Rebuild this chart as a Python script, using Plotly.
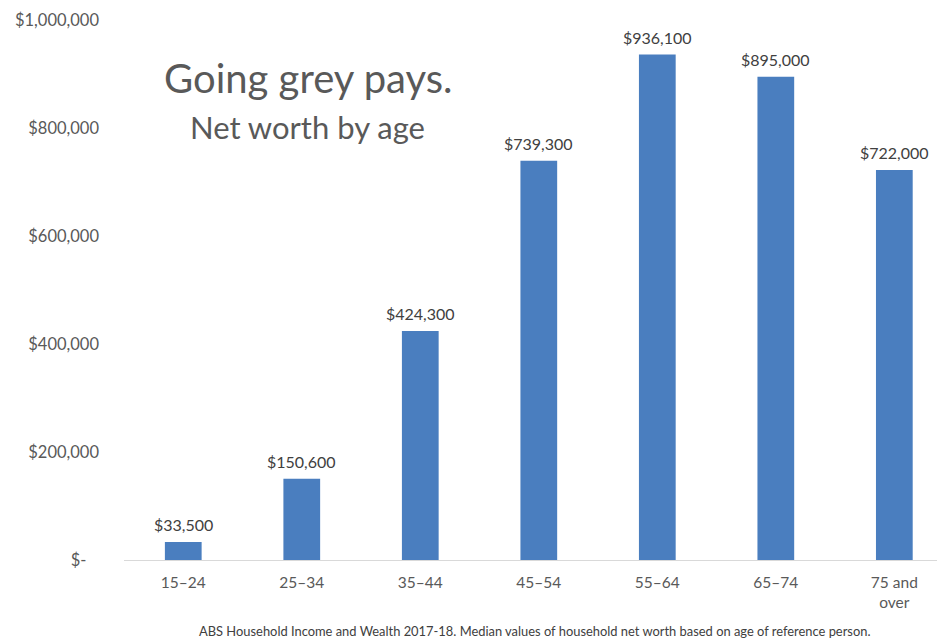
import plotly.graph_objects as go

categories = ["15\u201324", "25\u201334", "35\u201344", "45\u201354", "55\u201364", "65\u201374", "75 and<br>over"]
net_worth = [33500, 150600, 424300, 739300, 936100, 895000, 722000]
tick_vals = [0, 200000, 400000, 600000, 800000, 1000000]
tick_text = ["$-\u00a0\u00a0\u00a0", "$200,000", "$400,000", "$600,000", "$800,000", "$1,000,000"]

labels = ["${:,.0f}".format(v) for v in net_worth]

FONT = "Lato, 'Open Sans', sans-serif"

fig = go.Figure(go.Bar(
    x=list(range(len(categories))),
    y=net_worth,
    width=0.31,
    marker=dict(color="#4A7EBF", line=dict(width=0)),
))

label_annots = [
    dict(text=lab, x=i, y=v, xref="x", yref="y", yanchor="bottom",
         yshift=6, showarrow=False,
         font=dict(family=FONT, size=16, color="#404040"))
    for i, (v, lab) in enumerate(zip(net_worth, labels))
]

fig.update_layout(
    width=937, height=639,
    margin=dict(l=124, r=0, t=20, b=79),
    paper_bgcolor="white", plot_bgcolor="white",
    showlegend=False,
    font=dict(family=FONT, color="#595959"),
    xaxis=dict(
        range=[-0.5, 6.36],
        tickmode="array",
        tickvals=list(range(len(categories))),
        ticktext=categories,
        tickfont=dict(size=15.5, color="#595959"),
        showgrid=False, zeroline=False,
        showline=False, ticks="", ticklabelstandoff=11,
    ),
    yaxis=dict(
        range=[0, 1000000],
        tickmode="array",
        tickvals=tick_vals,
        ticktext=tick_text,
        tickfont=dict(size=16.5, color="#595959"),
        showgrid=False,
        zeroline=True, zerolinecolor="#D9D9D9", zerolinewidth=1,
        ticks="", ticklabelstandoff=24,
    ),
    annotations=label_annots + [
        dict(text="Going grey pays.", x=1.05, y=892000, xref="x", yref="y",
             showarrow=False, font=dict(family=FONT, size=40, color="#595959")),
        dict(text="Net worth by age", x=1.05, y=802000, xref="x", yref="y",
             showarrow=False, font=dict(family=FONT, size=31, color="#595959")),
        dict(text="ABS Household Income and Wealth 2017-18. Median values of household net worth based on age of reference person.",
             x=0.5055, y=-0.131, xref="paper", yref="paper", yanchor="middle",
             xanchor="center", showarrow=False,
             font=dict(family=FONT, size=12.9, color="#404040")),
    ],
)

fig.write_html("out.html")
